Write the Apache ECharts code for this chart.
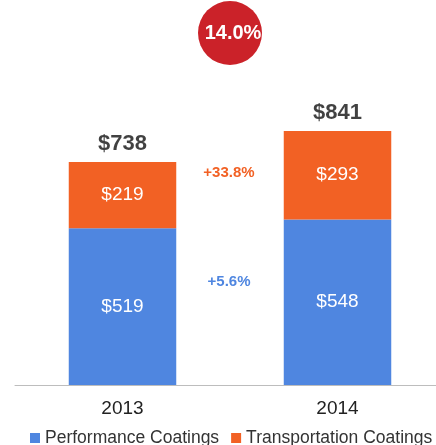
<!DOCTYPE html>
<html>
<head>
<meta charset="utf-8">
<script src="https://cdn.jsdelivr.net/npm/echarts@6/dist/echarts.min.js"></script>
<style>
  html, body { margin: 0; padding: 0; background: #fff; }
  #main { width: 436px; height: 445px; }
</style>
</head>
<body>
<div id="main"></div>
<script>
// chart data
var years = ['2013', '2014'];
var performance = [519, 548];
var transportation = [219, 293];
var totals = [738, 841];
var badgeText = '14.0%';
var transGrowth = '+33.8%';
var perfGrowth = '+5.6%';

var blue = '#4f86e0';
var orange = '#f26124';
var font = 'Liberation Sans, Arial, sans-serif';

var myChart = echarts.init(document.getElementById('main'));

var option = {
  animation: false,
  textStyle: { fontFamily: font },
  grid: { left: 15, top: 83, width: 430, height: 302, outerBoundsMode: 'none', containLabel: false },
  legend: {
    data: ['Performance Coatings', 'Transportation Coatings'],
    left: 30,
    top: 429,
    width: 430,
    padding: 0,
    itemWidth: 10,
    itemHeight: 10,
    itemGap: 12,
    icon: 'rect',
    textStyle: { fontSize: 17.5, color: '#333', fontFamily: font }
  },
  xAxis: {
    type: 'category',
    data: years,
    axisLine: { lineStyle: { color: '#bdbdbd' } },
    axisTick: { length: 5, lineStyle: { color: '#bdbdbd' } },
    axisLabel: { fontSize: 19, color: '#222', margin: 14 }
  },
  yAxis: {
    type: 'value',
    min: 0,
    max: 1000,
    show: false,
    splitLine: { show: false }
  },
  series: [
    {
      name: 'Performance Coatings',
      type: 'bar',
      stack: 'total',
      barWidth: '50%',
      itemStyle: { color: blue },
      label: { show: true, position: 'inside', color: '#fff', fontSize: 19, formatter: '${c}' },
      data: performance
    },
    {
      name: 'Transportation Coatings',
      type: 'bar',
      stack: 'total',
      itemStyle: { color: orange },
      label: { show: true, position: 'inside', color: '#fff', fontSize: 19, formatter: '${c}' },
      data: transportation
    },
    {
      name: 'Total',
      type: 'scatter',
      symbolSize: 0,
      silent: true,
      label: { show: true, position: 'top', distance: 7, color: '#111', fontSize: 22, fontWeight: 'bold', formatter: '${c}' },
      data: totals
    }
  ],
  graphic: [
    {
      type: 'circle',
      shape: { cx: 230, cy: 33, r: 32 },
      style: { fill: '#cb2229' }
    },
    {
      type: 'text',
      x: 233, y: 33,
      style: { text: badgeText, fill: '#fff', font: 'bold 20px ' + font, textAlign: 'center', textVerticalAlign: 'middle' }
    },
    {
      type: 'text',
      x: 229, y: 173,
      style: { text: transGrowth, fill: orange, font: 'bold 15px ' + font, textAlign: 'center', textVerticalAlign: 'middle' }
    },
    {
      type: 'text',
      x: 229, y: 282,
      style: { text: perfGrowth, fill: blue, font: 'bold 15px ' + font, textAlign: 'center', textVerticalAlign: 'middle' }
    }
  ]
};

myChart.setOption(option);
</script>
</body>
</html>
